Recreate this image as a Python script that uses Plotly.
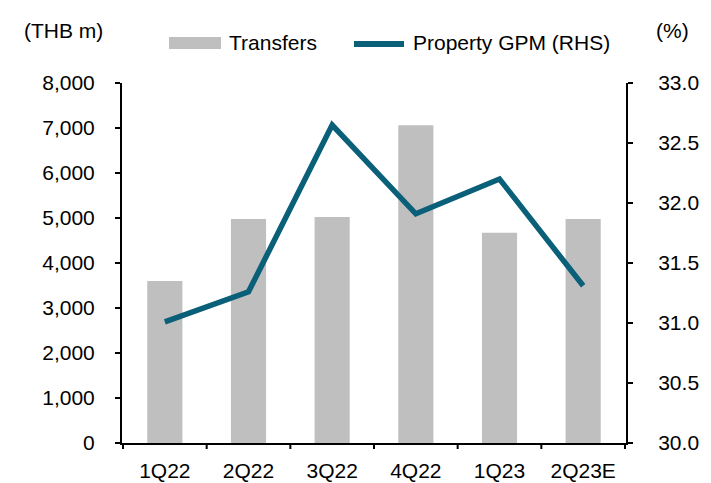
import plotly.graph_objects as go

categories = ["1Q22", "2Q22", "3Q22", "4Q22", "1Q23", "2Q23E"]
transfers = [3600, 4980, 5020, 7060, 4670, 4980]
gpm = [31.01, 31.26, 32.65, 31.91, 32.20, 31.31]

left_ticks = [0, 1000, 2000, 3000, 4000, 5000, 6000, 7000, 8000]
right_ticks = [30.0, 30.5, 31.0, 31.5, 32.0, 32.5, 33.0]

FONT = "Liberation Sans, Arial, sans-serif"
FS = 21
LINE_COLOR = "#0a5f79"
BAR_COLOR = "#bfbfbf"

W, H = 711, 483
L, R, T, B = 122, 85, 83, 40
PW, PH = W - L - R, H - T - B


def px(x):
    return (x - L) / PW


def py(y):
    return (H - B - y) / PH


fig = go.Figure()
fig.add_trace(go.Bar(x=categories, y=transfers, name="Transfers",
                     marker=dict(color=BAR_COLOR, line=dict(width=0)), width=0.42))
fig.add_trace(go.Scatter(x=categories, y=gpm, name="Property GPM (RHS)", yaxis="y2",
                         mode="lines", line=dict(color=LINE_COLOR, width=5.5)))

fig.update_layout(
    width=W, height=H,
    margin=dict(l=L, r=R, t=T, b=B, autoexpand=False),
    paper_bgcolor="white", plot_bgcolor="white",
    font=dict(family=FONT, size=FS, color="black"),
    showlegend=False,
    xaxis=dict(showline=True, linecolor="black", linewidth=2,
               ticks="", showgrid=False, tickfont=dict(size=FS),
               ticklabelstandoff=8),
    yaxis=dict(range=[0, 8000], tickvals=left_ticks, tickformat=",d",
               showline=True, linecolor="black", linewidth=2,
               ticks="outside", ticklen=5, tickwidth=2, tickcolor="black",
               showgrid=False, zeroline=False, tickfont=dict(size=FS),
               ticklabelstandoff=16),
    yaxis2=dict(range=[30, 33], tickvals=right_ticks, tickformat=".1f",
                overlaying="y", side="right",
                showline=True, linecolor="black", linewidth=2,
                ticks="outside", ticklen=5, tickwidth=2, tickcolor="black",
                showgrid=False, zeroline=False, tickfont=dict(size=FS),
                ticklabelstandoff=21),
)

# category boundary ticks on x axis
for i in range(len(categories) + 1):
    fig.add_shape(type="line", xref="x", yref="paper",
                  x0=i - 0.5, x1=i - 0.5, y0=0, y1=py(449),
                  line=dict(color="black", width=2))

# custom legend
fig.add_shape(type="rect", xref="paper", yref="paper",
              x0=px(169), x1=px(221), y0=py(49), y1=py(37),
              fillcolor=BAR_COLOR, line=dict(width=0))
fig.add_annotation(text="Transfers", xref="paper", yref="paper",
                   x=px(227), y=py(43), xanchor="left", yanchor="middle",
                   showarrow=False, font=dict(size=FS))
fig.add_shape(type="line", xref="paper", yref="paper",
              x0=px(354), x1=px(404), y0=py(44), y1=py(44),
              line=dict(color=LINE_COLOR, width=6))
fig.add_annotation(text="Property GPM (RHS)", xref="paper", yref="paper",
                   x=px(411), y=py(43), xanchor="left", yanchor="middle",
                   showarrow=False, font=dict(size=FS))

fig.add_annotation(text="(THB m)", xref="paper", yref="paper", x=px(22), y=py(30),
                   xanchor="left", yanchor="middle", showarrow=False, font=dict(size=FS))
fig.add_annotation(text="(%)", xref="paper", yref="paper", x=px(672), y=py(30),
                   xanchor="center", yanchor="middle", showarrow=False, font=dict(size=FS))

fig.write_html("out.html", config={"displayModeBar": False},
               post_script="document.body.style.margin='0';document.body.style.overflow='hidden';")
